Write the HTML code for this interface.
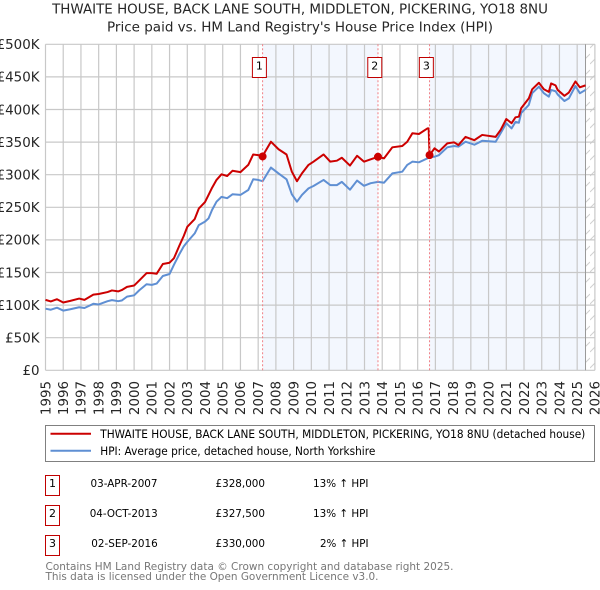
<!DOCTYPE html>
<html lang="en">
<head>
<meta charset="utf-8">
<title>THWAITE HOUSE price paid vs HPI</title>
<style>
html,body{margin:0;padding:0;background:#fff;width:600px;height:590px;overflow:hidden}
svg{display:block}
text{font-family:"DejaVu Sans","Liberation Sans",sans-serif}
</style>
</head>
<body>
<svg id="chart" xmlns="http://www.w3.org/2000/svg" width="600" height="590" viewBox="0 0 600 590">
<defs>
<pattern id="hatch" patternUnits="userSpaceOnUse" width="10" height="16" patternTransform="translate(0 4)">
<line x1="0" y1="12" x2="10" y2="2" stroke="#d0d0d0" stroke-width="1"/>
</pattern>
</defs>
<rect x="0" y="0" width="600" height="590" fill="#ffffff"/>
<text x="300" y="13.5" text-anchor="middle" font-size="13.45" fill="#262626">THWAITE HOUSE, BACK LANE SOUTH, MIDDLETON, PICKERING, YO18 8NU</text>
<text x="300" y="31.5" text-anchor="middle" font-size="13.5" fill="#262626">Price paid vs. HM Land Registry's House Price Index (HPI)</text>
<g id="shading"></g>
<g id="grid"></g>
<g id="yticks"></g>
<g id="xticks"></g>
<g id="series"></g>
<g id="sales"></g>

<g>
<rect x="45.5" y="425.5" width="549" height="36" fill="#fff" stroke="#808080" stroke-width="1"/>
<line x1="50.5" y1="433.7" x2="91" y2="433.7" stroke="#cc0000" stroke-width="2"/>
<text x="100.3" y="438" font-size="11.4" textLength="485" lengthAdjust="spacingAndGlyphs" fill="#000">THWAITE HOUSE, BACK LANE SOUTH, MIDDLETON, PICKERING, YO18 8NU (detached house)</text>
<line x1="50.5" y1="450.7" x2="91" y2="450.7" stroke="#5f8fd3" stroke-width="2"/>
<text x="100.3" y="455" font-size="11.4" textLength="275" lengthAdjust="spacingAndGlyphs" fill="#000">HPI: Average price, detached house, North Yorkshire</text>
</g>

<g font-size="11" fill="#000">
<g>
<rect x="45.5" y="475.5" width="14" height="20" fill="#fff" stroke="#c00000" stroke-width="1"/>
<text x="52.5" y="487" text-anchor="middle">1</text>
<text x="90.5" y="487" textLength="67" lengthAdjust="spacingAndGlyphs">03-APR-2007</text>
<text x="215.5" y="487" textLength="49.5" lengthAdjust="spacingAndGlyphs">£328,000</text>
<text x="313" y="487" textLength="55.5" lengthAdjust="spacingAndGlyphs">13% ↑ HPI</text>
</g>
<g>
<rect x="45.5" y="505.5" width="14" height="20" fill="#fff" stroke="#c00000" stroke-width="1"/>
<text x="52.5" y="517" text-anchor="middle">2</text>
<text x="89.7" y="517" textLength="68" lengthAdjust="spacingAndGlyphs">04-OCT-2013</text>
<text x="215.5" y="517" textLength="49.5" lengthAdjust="spacingAndGlyphs">£327,500</text>
<text x="313" y="517" textLength="55.5" lengthAdjust="spacingAndGlyphs">13% ↑ HPI</text>
</g>
<g>
<rect x="45.5" y="535.5" width="14" height="20" fill="#fff" stroke="#c00000" stroke-width="1"/>
<text x="52.5" y="547" text-anchor="middle">3</text>
<text x="91.3" y="547" textLength="66.4" lengthAdjust="spacingAndGlyphs">02-SEP-2016</text>
<text x="215.5" y="547" textLength="49.5" lengthAdjust="spacingAndGlyphs">£330,000</text>
<text x="320" y="547" textLength="48.5" lengthAdjust="spacingAndGlyphs">2% ↑ HPI</text>
</g>
</g>

<text x="45.5" y="570" font-size="11" textLength="408" lengthAdjust="spacingAndGlyphs" fill="#777">Contains HM Land Registry data © Crown copyright and database right 2025.</text>
<text x="45.5" y="580" font-size="11" textLength="333" lengthAdjust="spacingAndGlyphs" fill="#777">This data is licensed under the Open Government Licence v3.0.</text>
</svg>
<script>
const yTickValues = [0, 50, 100, 150, 200, 250, 300, 350, 400, 450, 500];
const yTickLabels = ['£0', '£50K', '£100K', '£150K', '£200K', '£250K', '£300K', '£350K', '£400K', '£450K', '£500K'];
const xTickYears = [1995, 1996, 1997, 1998, 1999, 2000, 2001, 2002, 2003, 2004, 2005, 2006, 2007, 2008, 2009, 2010, 2011, 2012, 2013, 2014, 2015, 2016, 2017, 2018, 2019, 2020, 2021, 2022, 2023, 2024, 2025, 2026];
const dates = [1995.0, 1995.3, 1995.65, 1996.0, 1996.4, 1996.9, 1997.2, 1997.7, 1998.0, 1998.5, 1998.75, 1999.1, 1999.3, 1999.6, 2000.0, 2000.3, 2000.7, 2001.0, 2001.27, 2001.62, 2002.0, 2002.25, 2002.55, 2002.8, 2003.0, 2003.42, 2003.65, 2004.0, 2004.2, 2004.4, 2004.65, 2004.93, 2005.25, 2005.55, 2006.0, 2006.44, 2006.72, 2007.0, 2007.25, 2007.72, 2008.15, 2008.6, 2008.9, 2009.19, 2009.47, 2009.84, 2010.12, 2010.69, 2011.07, 2011.44, 2011.72, 2012.18, 2012.58, 2012.97, 2013.35, 2013.76, 2014.1, 2014.57, 2015.13, 2015.41, 2015.7, 2016.07, 2016.55, 2016.62, 2016.67, 2016.95, 2017.2, 2017.67, 2018.05, 2018.3, 2018.7, 2019.2, 2019.64, 2020.4, 2020.68, 2021.0, 2021.3, 2021.52, 2021.71, 2021.84, 2022.27, 2022.46, 2022.84, 2023.12, 2023.4, 2023.53, 2023.78, 2023.9, 2024.28, 2024.53, 2024.9, 2025.15, 2025.47];
const pricePaid = [108, 105.6, 109, 104, 106.5, 110, 108, 116, 117, 120, 122.5, 121, 123, 128, 130, 138, 149, 149, 148, 163, 165, 172, 191, 206, 220, 232, 248, 258, 269, 280, 292, 300.6, 298, 306, 304, 315, 331, 330, 328.7, 350.6, 339, 331, 304.6, 290, 302, 315, 320, 331, 320, 321.5, 326, 314, 329, 320, 323.6, 327.5, 325, 342, 344, 350.6, 363.5, 362.4, 371, 371, 330, 340.5, 335.5, 348, 349.7, 345.5, 358, 353, 361, 358, 368.6, 385.4, 379, 388, 389, 402, 417, 431, 441, 431, 427, 440, 437, 430, 421, 426, 443, 434, 437];
const hpiIndex = [94.5, 92.9, 96, 91.6, 93.6, 96.7, 95.6, 102, 101, 106, 107.6, 106, 107, 113, 115, 123, 132, 131, 133, 144.6, 147.7, 162, 178, 190, 197, 210, 222.7, 228, 233, 246, 258.6, 266, 264, 270, 269, 276.5, 293, 292, 290, 311, 302, 293, 270, 258.6, 269, 279, 282.7, 292, 284, 284, 289, 277, 291, 283, 287, 289, 287.7, 302, 304.6, 315, 320, 319, 325, 326, 327, 327.6, 330, 342, 344, 343, 350.6, 346, 352, 350.6, 363.5, 379, 371, 381, 379.7, 394.5, 407, 425, 435, 425, 419.6, 430, 428, 423, 413, 417, 436, 425, 430];
const saleDates = [2007.25, 2013.76, 2016.67];
const salePrices = [328, 327.5, 330];
const saleLabels = ['1', '2', '3'];
const dataEndYear = 2025.47;

const NS = 'http://www.w3.org/2000/svg';
const plotLeft = 45.5, plotRight = 594.9, plotTop = 44.3, plotBottom = 370.3;
const xMin = 1995, xMax = 2026, yMin = 0, yMax = 500;
function xScale(v) { return plotLeft + (v - xMin) / (xMax - xMin) * (plotRight - plotLeft); }
function yScale(v) { return plotBottom - (v - yMin) / (yMax - yMin) * (plotBottom - plotTop); }
function make(tag, parent, attrs) {
  const el = document.createElementNS(NS, tag);
  for (const k in attrs) el.setAttribute(k, attrs[k]);
  parent.appendChild(el);
  return el;
}
const shadingG = document.getElementById('shading');
const gridG = document.getElementById('grid');
const yG = document.getElementById('yticks');
const xG = document.getElementById('xticks');
const seriesG = document.getElementById('series');
const salesG = document.getElementById('sales');

const plotH = plotBottom - plotTop;
const band1 = make('rect', shadingG, {x: xScale(saleDates[0]), y: plotTop, width: xScale(saleDates[1]) - xScale(saleDates[0]), height: plotH, fill: '#f3f7fe'});


const band2 = make('rect', shadingG, {x: xScale(saleDates[2]), y: plotTop, width: xScale(dataEndYear) - xScale(saleDates[2]), height: plotH, fill: '#f3f7fe'});


const hatchRect = make('rect', shadingG, {x: xScale(dataEndYear), y: plotTop, width: plotRight - xScale(dataEndYear), height: plotH, fill: 'url(#hatch)'});



yTickValues.forEach(function (v, i) {
  const y = yScale(v);
  const gl = make('line', gridG, {x1: plotLeft, x2: plotRight, y1: y, y2: y, stroke: '#c8c8c8', 'stroke-width': 1.2});
  
  
  const t = make('text', yG, {x: 39.5, y: y + 4.8, 'text-anchor': 'end', 'font-size': 13.4, fill: '#262626'});
  
  
  t.textContent = yTickLabels[i];
});
xTickYears.forEach(function (yr) {
  const x = xScale(yr);
  const gl = make('line', gridG, {x1: x, x2: x, y1: plotTop, y2: plotBottom, stroke: '#c8c8c8', 'stroke-width': 1.2});
  
  
  const t = make('text', xG, {transform: 'translate(' + (x + 4.8) + ' 381) rotate(-90)', 'text-anchor': 'end', 'font-size': 13.4, fill: '#262626'});
  
  
  t.textContent = String(yr);
});
const endLine = make('line', gridG, {x1: xScale(dataEndYear), x2: xScale(dataEndYear), y1: plotTop, y2: plotBottom, stroke: '#999999', 'stroke-width': 1});



function linePath(values) {
  return values.map(function (v, i) {
    return (i ? 'L' : 'M') + xScale(dates[i]).toFixed(2) + ' ' + yScale(v).toFixed(2);
  }).join(' ');
}
const hpiLine = make('path', seriesG, {d: linePath(hpiIndex), fill: 'none', stroke: '#5f8fd3', 'stroke-width': 2, 'stroke-linejoin': 'round'});


const priceLine = make('path', seriesG, {d: linePath(pricePaid), fill: 'none', stroke: '#cc0000', 'stroke-width': 2, 'stroke-linejoin': 'round'});



saleDates.forEach(function (d, i) {
  const x = xScale(d);
  const vl = make('line', salesG, {x1: x, x2: x, y1: plotTop, y2: plotBottom, stroke: '#f07f85', 'stroke-width': 1, 'stroke-dasharray': '2 2'});
  
  
  const box = make('rect', salesG, {x: x - 10.2, y: 57.5, width: 14, height: 20, fill: '#fff', stroke: '#c00000', 'stroke-width': 1});
  
  
  const lab = make('text', salesG, {x: x - 3.2, y: 69.5, 'text-anchor': 'middle', 'font-size': 11, fill: '#000'});
  
  
  lab.textContent = saleLabels[i];
  const dot = make('circle', salesG, {cx: x, cy: yScale(salePrices[i]), r: 4, fill: '#cc0000'});
  
  
});
</script>
</body>
</html>
